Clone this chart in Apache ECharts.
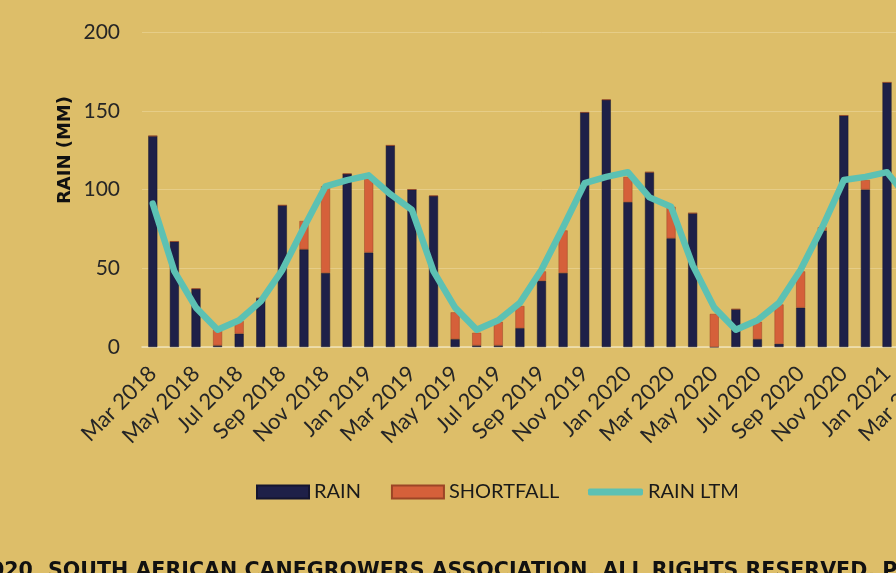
<!DOCTYPE html>
<html>
<head>
<meta charset="utf-8">
<script src="https://cdn.jsdelivr.net/npm/echarts@6/dist/echarts.min.js"></script>
<style>
html, body { margin: 0; padding: 0; background: #ddbe69; overflow: hidden; }
/* wider than the window on purpose: the original is cropped on the right */
#main { width: 945px; height: 573px; }
</style>
</head>
<body>
<div id="main"></div>
<script>
// months, Mar 2018 .. Mar 2021 (the last ones fall off the right edge)
var months = ['Mar 2018', 'Apr 2018', 'May 2018', 'Jun 2018', 'Jul 2018', 'Aug 2018', 'Sep 2018', 'Oct 2018',
    'Nov 2018', 'Dec 2018', 'Jan 2019', 'Feb 2019', 'Mar 2019', 'Apr 2019', 'May 2019', 'Jun 2019',
    'Jul 2019', 'Aug 2019', 'Sep 2019', 'Oct 2019', 'Nov 2019', 'Dec 2019', 'Jan 2020', 'Feb 2020',
    'Mar 2020', 'Apr 2020', 'May 2020', 'Jun 2020', 'Jul 2020', 'Aug 2020', 'Sep 2020', 'Oct 2020',
    'Nov 2020', 'Dec 2020', 'Jan 2021', 'Feb 2021', 'Mar 2021']

var rain = [134, 67, 37, 1, 8.5, 31, 90, 62, 47, 110, 60, 128, 100, 96, 5, 1,
    1, 12, 42, 47, 149, 157, 92, 111, 69, 85, 0, 24, 5, 2, 25, 74,
    147, 100, 168, null, null]

var shortfall = [0, 0, 0, 10, 8, 0, 0, 18, 55, 0, 47, 0, 0, 0, 17, 8,
    15, 14, 6, 27, 0, 0, 16, 0, 20, 0, 21, 0, 11, 25, 23, 2,
    0, 6, 0, null, null]

var rainLtm = [91, 48, 25, 11, 17, 29, 49, 76, 102, 106, 109, 97, 87, 48, 25, 11,
    17, 28, 49, 76, 104, 108, 111, 95, 89, 52, 25, 11, 17, 28, 49, 76,
    106, 108, 111, 94, 88]

var yTicks = [0, 50, 100, 150, 200]

var font = 'Lato'
var navy = '#1e2048'
var orange = '#d5603a'
var teal = '#5cc1b3'

var chart = echarts.init(document.getElementById('main'))

var option = {
    backgroundColor: '#ddbe69',
    animation: false,
    grid: {
        left: 142,
        top: 32,
        bottom: 226,
        right: 4
    },
    legend: [{
        left: 251,
        top: 477,
        itemWidth: 52,
        itemHeight: 13,
        itemGap: 30,
        icon: 'rect',
        textStyle: { fontFamily: font, fontSize: 20, color: '#1a1a1a' },
        data: ['RAIN', 'SHORTFALL']
    }, {
        left: 583,
        top: 477,
        itemWidth: 55,
        itemHeight: 7,
        icon: 'roundRect',
        textStyle: { fontFamily: font, fontSize: 20, color: '#1a1a1a' },
        data: ['RAIN LTM']
    }],
    xAxis: {
        type: 'category',
        data: months,
        axisLine: { lineStyle: { color: '#efe2b8', width: 1.5 } },
        axisTick: { show: false },
        axisLabel: {
            interval: 1,
            rotate: 45,
            margin: 23,
            fontFamily: font,
            fontSize: 22,
            color: '#262626'
        }
    },
    yAxis: {
        type: 'value',
        min: yTicks[0],
        max: yTicks[yTicks.length - 1],
        interval: 50,
        axisLine: { show: false },
        axisTick: { show: false },
        splitLine: { lineStyle: { color: '#e6cd87', width: 1 } },
        axisLabel: {
            margin: 22,
            fontFamily: font,
            fontSize: 21,
            color: '#262626'
        }
    },
    graphic: [{
        type: 'text',
        left: 56,
        top: 96,
        rotation: Math.PI / 2,
        originX: 0,
        originY: 0,
        style: {
            text: 'RAIN (MM)',
            font: 'bold 18px "DejaVu Sans"',
            fill: '#111'
        }
    }, {
        type: 'text',
        left: -45,
        top: 561,
        style: {
            text: '©2020, SOUTH AFRICAN CANEGROWERS ASSOCIATION. ALL RIGHTS RESERVED. P',
            font: 'bold 20.6px "DejaVu Sans"',
            fill: '#111'
        }
    }],
    series: [{
        name: 'RAIN',
        type: 'bar',
        stack: 'total',
        barWidth: 9,
        data: rain,
        itemStyle: { color: navy, borderColor: '#14152f', borderWidth: 0.5 }
    }, {
        name: 'SHORTFALL',
        type: 'bar',
        stack: 'total',
        barWidth: 9,
        data: shortfall,
        itemStyle: { color: orange, borderColor: '#9c4526', borderWidth: 0.5 }
    }, {
        name: 'RAIN LTM',
        type: 'line',
        data: rainLtm,
        showSymbol: false,
        symbol: 'none',
        z: 5,
        lineStyle: { color: teal, width: 6.5, cap: 'round', join: 'round' },
        itemStyle: { color: teal }
    }]
}

chart.setOption(option)
</script>
</body>
</html>
